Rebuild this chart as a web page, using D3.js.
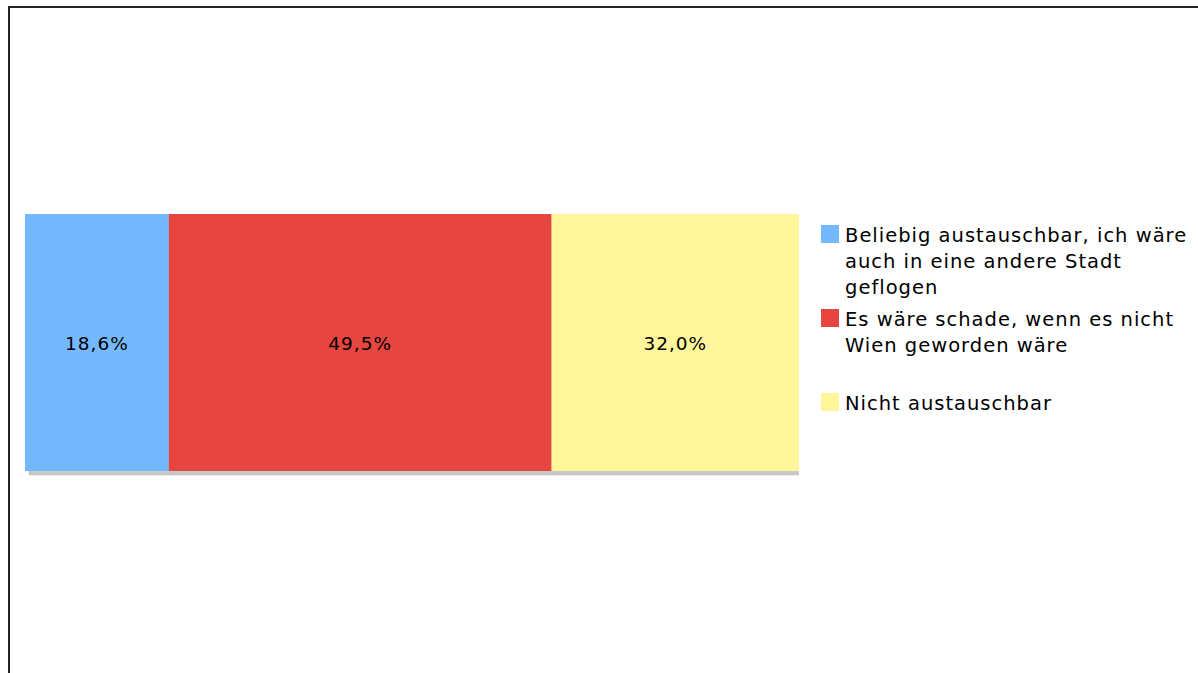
<!DOCTYPE html>
<html><head><meta charset="utf-8">
<script src="https://cdn.jsdelivr.net/npm/d3@7"></script>
<style>body{margin:0;background:#fff;} svg{display:block;}</style>
</head><body>
<svg id="c" width="1198" height="673"></svg>
<script>
const categories = ["Beliebig austauschbar, ich wäre auch in eine andere Stadt geflogen", "Es wäre schade, wenn es nicht Wien geworden wäre", "Nicht austauschbar"];
const legendLines = [["Beliebig austauschbar, ich wäre", "auch in eine andere Stadt", "geflogen"], ["Es wäre schade, wenn es nicht", "Wien geworden wäre"], ["Nicht austauschbar"]];
const values = [18.6, 49.5, 32.0];
const valueLabels = ["18,6%", "49,5%", "32,0%"];
const colors = ["#74b9ff", "#e74540", "#fff59b"];

const svg = d3.select("#c");
const font = "DejaVu Sans, Verdana, sans-serif";

svg.append("rect").attr("x", 9).attr("y", 7).attr("width", 1300).attr("height", 800)
  .attr("fill", "none").attr("stroke", "#222").attr("stroke-width", 2);

const total = d3.sum(values);
const x = d3.scaleLinear().domain([0, total]).range([25, 799]);
const y = d3.scaleBand().domain(["row"]).range([214, 471]).padding(0);

let acc = 0;
const stacked = values.map((v, i) => { const s = {x0: acc, x1: acc + v, v, i}; acc += v; return s; });

svg.append("defs").append("clipPath").attr("id", "clip").append("rect")
  .attr("x", 0).attr("y", 0).attr("width", 799).attr("height", 673);

svg.append("g").attr("clip-path", "url(#clip)").selectAll("rect").data(stacked).join("rect")
  .attr("x", d => x(d.x0) + 4).attr("y", y("row") + 4)
  .attr("width", d => x(d.x1) - x(d.x0)).attr("height", y.bandwidth())
  .attr("fill", "#c8c8c8").attr("stroke", "#b8b8b8").attr("stroke-width", 0.5);

svg.append("g").selectAll("rect").data(stacked).join("rect")
  .attr("x", d => x(d.x0)).attr("y", y("row"))
  .attr("width", d => x(d.x1) - x(d.x0)).attr("height", y.bandwidth())
  .attr("fill", d => colors[d.i]);

svg.append("g").selectAll("text").data(stacked).join("text")
  .attr("x", d => (x(d.x0) + x(d.x1)) / 2).attr("y", y("row") + y.bandwidth() / 2 + 1)
  .attr("text-anchor", "middle").attr("dominant-baseline", "central")
  .attr("font-family", font).attr("font-size", 18.5).attr("letter-spacing", 1).attr("fill", "#000")
  .text(d => valueLabels[d.i]);

const leg = svg.append("g").selectAll("g").data(categories).join("g")
  .attr("transform", (d, i) => `translate(821, ${225 + i * 84})`);
leg.append("rect").attr("width", 18).attr("height", 18).attr("fill", (d, i) => colors[i]);
leg.append("text").attr("font-family", font).attr("font-size", 19.5).attr("letter-spacing", 1).attr("fill", "#000")
  .selectAll("tspan").data((d, i) => legendLines[i]).join("tspan")
  .attr("x", 24).attr("y", (d, j) => 17 + j * 26).text(d => d);
</script>
</body></html>
